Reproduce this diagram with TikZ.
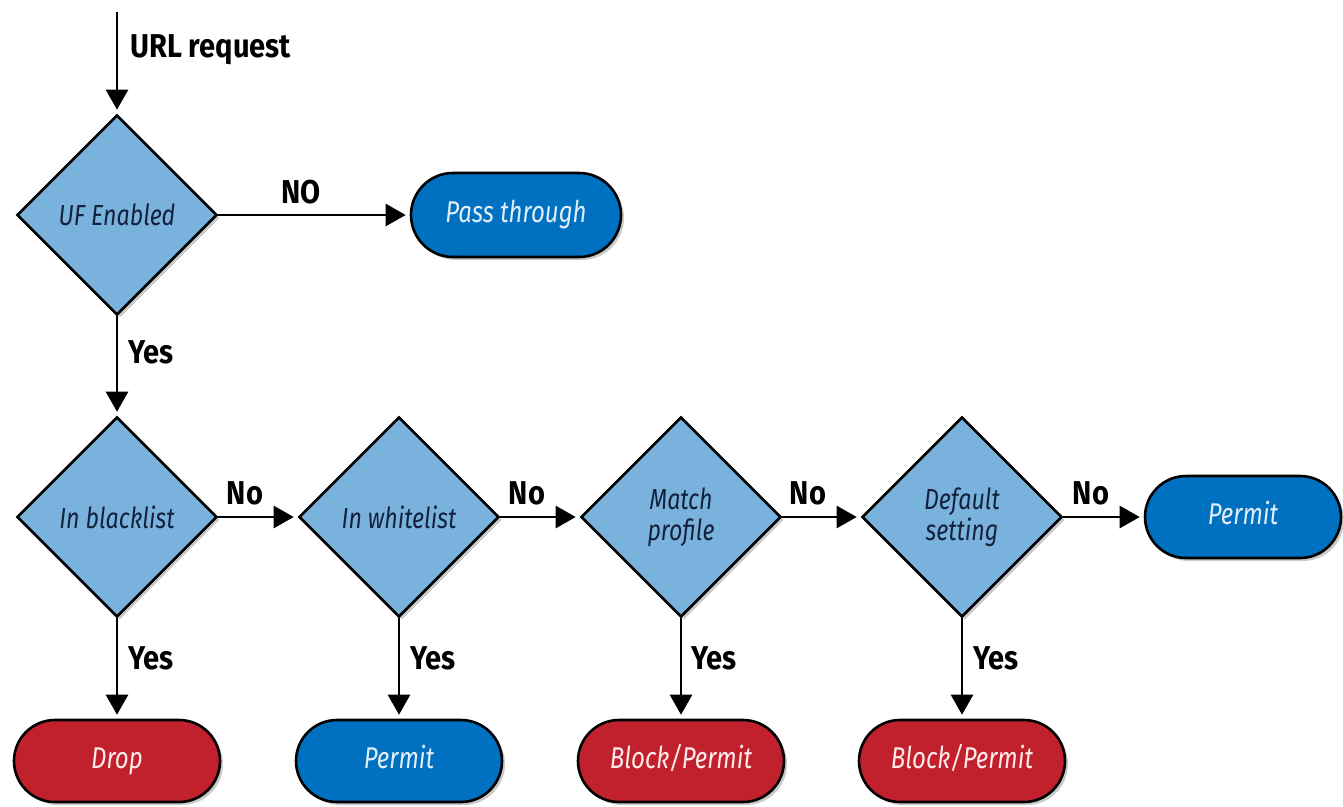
\documentclass[tikz,border=0pt]{standalone}
\usepackage{fontspec}
\setmainfont{Fira Sans}[FakeStretch=0.8]
\newfontfamily\labfont{Fira Sans}[FakeStretch=0.88]
\usetikzlibrary{shapes.geometric,shapes.misc,arrows.meta,shadows}
\definecolor{dlight}{RGB}{122,178,222}
\definecolor{bblue}{RGB}{0,112,192}
\definecolor{rred}{RGB}{193,33,45}
\definecolor{navy}{RGB}{20,33,61}
\definecolor{boxtext}{RGB}{225,238,250}
\begin{document}
\begin{tikzpicture}[x=1pt,y=-1pt,
  shd/.style={drop shadow={shadow xshift=3pt,shadow yshift=-3pt,opacity=0.35,fill=black!60}},
  decision/.style={diamond,aspect=1,draw=black,line width=2.6pt,fill=dlight,shd,
    minimum width=200pt,minimum height=200pt,inner sep=0pt,align=center,
    font=\fontsize{29}{31}\selectfont\itshape,text=navy},
  term/.style={rounded rectangle,draw=black,line width=2.6pt,shd,
    minimum width=206pt,minimum height=82pt,inner sep=0pt,
    text height=20pt,text depth=6pt,
    font=\fontsize{30}{32}\selectfont\itshape,text=boxtext},
  blueterm/.style={term,fill=bblue},
  redterm/.style={term,fill=rred,text=white!92!red},
  flow/.style={line width=2.6pt,-{Triangle[length=20pt,width=22pt]},shorten >=4pt},
  lbl/.style={font=\labfont\fontsize{33}{35}\selectfont\bfseries,inner sep=0pt}
]
\useasboundingbox (0,0) rectangle (1343,806);

\coordinate (start) at (117,12);
\node[decision] (d0) at (117,215) {UF Enabled};
\node[blueterm,minimum width=210pt,minimum height=84pt] (pass) at (516,215) {Pass through};

\node[decision] (d1) at (117,517) {In blacklist};
\node[decision] (d2) at (399,517) {In whitelist};
\node[decision] (d3) at (681,517) {Match\\profile};
\node[decision] (d4) at (962,517) {Default\\setting};
\node[blueterm,minimum width=196pt] (pr) at (1243,517) {Permit};

\node[redterm] (drop) at (117,761) {Drop};
\node[blueterm] (pb) at (399,761) {Permit};
\node[redterm] (bp1) at (681,761) {Block/Permit};
\node[redterm] (bp2) at (962,761) {Block/Permit};

\draw[flow] (start) -- (d0.north);
\node[lbl,anchor=west] (lurl) at (130,50) {URL request};

\draw[flow] (d0.east) -- (pass.west);
\node[lbl] (lno0) at (301,192) {NO};

\draw[flow] (d0.south) -- (d1.north);
\node[lbl,anchor=west] (ly0) at (128,352) {Yes};

\draw[flow] (d1.east) -- (d2.west);
\draw[flow] (d2.east) -- (d3.west);
\draw[flow] (d3.east) -- (d4.west);
\draw[flow] (d4.east) -- (pr.west);
\node[lbl] (ln1) at (245,493) {No};
\node[lbl] (ln2) at (527,493) {No};
\node[lbl] (ln3) at (808,493) {No};
\node[lbl] (ln4) at (1091,493) {No};

\draw[flow] (d1.south) -- (drop.north);
\draw[flow] (d2.south) -- (pb.north);
\draw[flow] (d3.south) -- (bp1.north);
\draw[flow] (d4.south) -- (bp2.north);
\node[lbl,anchor=west] (ly1) at (128,658) {Yes};
\node[lbl,anchor=west] (ly2) at (410,658) {Yes};
\node[lbl,anchor=west] (ly3) at (691,658) {Yes};
\node[lbl,anchor=west] (ly4) at (973,658) {Yes};
\end{tikzpicture}
\end{document}
